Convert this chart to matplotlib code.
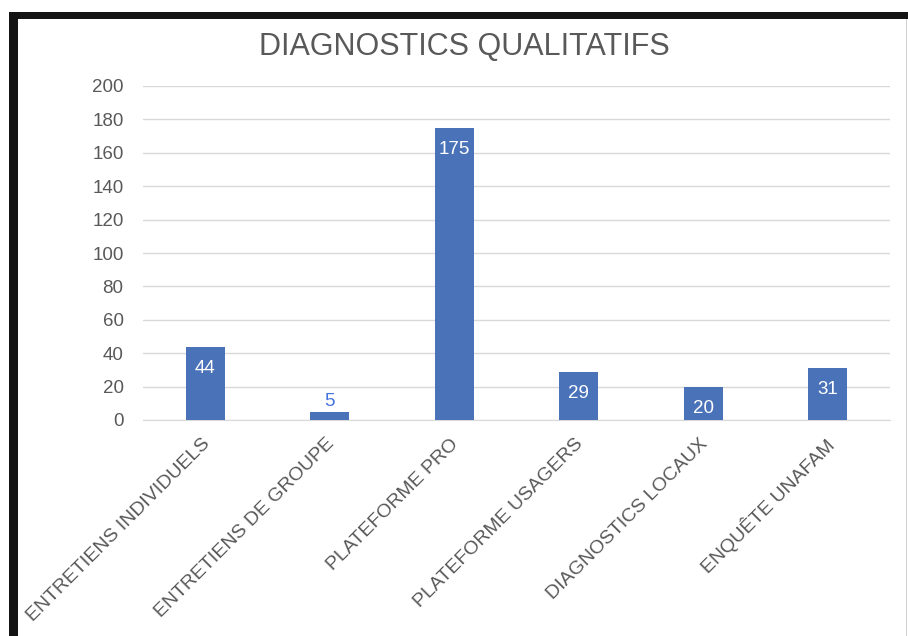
import numpy as np
import matplotlib
matplotlib.use('Agg')
import matplotlib.pyplot as plt
import matplotlib.patches as mpa
import matplotlib.transforms as mtr

plt.rcParams['font.family'] = ['Liberation Sans', 'DejaVu Sans']

categories = ['ENTRETIENS INDIVIDUELS', 'ENTRETIENS DE GROUPE', 'PLATEFORME PRO',
              'PLATEFORME USAGERS', 'DIAGNOSTICS LOCAUX', 'ENQUÊTE UNAFAM']
values = [44, 5, 175, 29, 20, 31]
yticks = [0, 20, 40, 60, 80, 100, 120, 140, 160, 180, 200]

W, H = 908, 636
fig = plt.figure(figsize=(W / 100, H / 100), dpi=100)
ax = fig.add_axes([143 / W, 1 - 420 / H, (890 - 143) / W, (420 - 86) / H])

blue = '#4A72B8'
lblue = '#4472E0'
grid = '#D9D9D9'
txt = '#595959'

x = np.arange(len(categories))
bars = ax.bar(x, values, width=0.31, color=blue, zorder=3)

for xi, v in zip(x, values):
    if v > 10:
        ax.annotate(str(v), (xi, v), xytext=(0, -15.5), textcoords='offset points',
                    ha='center', va='center', color='white', fontsize=13.5, zorder=4)
    else:
        ax.annotate(str(v), (xi, v), xytext=(0, 7), textcoords='offset points',
                    ha='center', va='center', color=lblue, fontsize=13.5, zorder=4)

ax.set_xlim(-0.5, len(categories) - 0.5)
ax.set_ylim(0, 200)
ax.set_yticks(yticks)
ax.set_yticklabels([str(t) for t in yticks], fontsize=13.5, color=txt)
ax.yaxis.grid(True, color=grid, lw=1, zorder=0)
ax.tick_params(axis='y', length=0, pad=14)
ax.tick_params(axis='x', length=0, pad=11)
ax.set_xticks(x)
ax.set_xticklabels(categories, rotation=45, ha='right', va='top',
                   rotation_mode='anchor', fontsize=14, color=txt)
shift = mtr.ScaledTranslation(-4 / 100, 0, fig.dpi_scale_trans)
for lab in ax.get_xticklabels():
    lab.set_transform(lab.get_transform() + shift)
for s in ['top', 'right', 'left']:
    ax.spines[s].set_visible(False)
ax.spines['bottom'].set_color(grid)

fig.text(464 / W, 1 - 47 / H, 'DIAGNOSTICS QUALITATIFS', ha='center', va='center',
         fontsize=22, color=txt)

# black screenshot frame
fig.add_artist(mpa.Rectangle((9 / W, 1 - 19 / H), 1 - 9 / W, 7 / H,
                             transform=fig.transFigure, color='#141414', lw=0))
fig.add_artist(mpa.Rectangle((9 / W, 0), 9 / W, 1 - 12 / H,
                             transform=fig.transFigure, color='#141414', lw=0))
fig.add_artist(mpa.Rectangle((906 / W, 0), 1 / W, 1 - 19 / H,
                             transform=fig.transFigure, color='#D0D0D0', lw=0))

fig.savefig('out.png', dpi=100)
